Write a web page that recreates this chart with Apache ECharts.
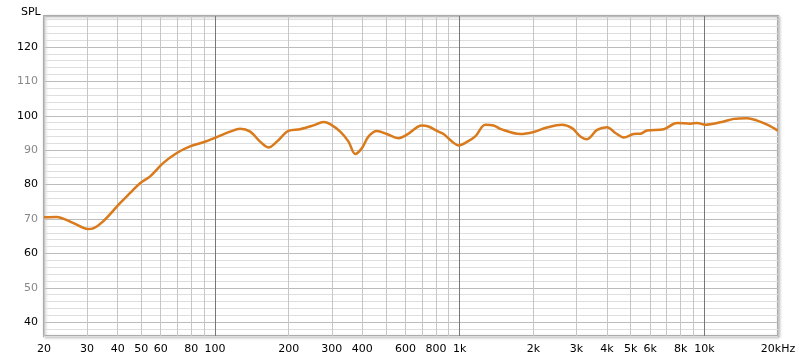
<!DOCTYPE html>
<html>
<head>
<meta charset="utf-8">
<script src="https://cdn.jsdelivr.net/npm/echarts@6/dist/echarts.min.js"></script>
<style>html,body{margin:0;padding:0;background:#fff}#c{width:800px;height:361px}</style>
</head>
<body>
<div id="c"></div>
<script>
var freqHz = [20, 22.5, 26.4, 30.2, 31.8, 34.9, 40.9, 44.9, 49.4, 54.3, 61.5, 69.8, 79.1, 89.7, 101.7, 115.3, 126.7, 139.2, 152.9, 165.4, 179, 199.6, 222.9, 252.6, 277.6, 295.6, 324.9, 351.3, 374.2, 398.6, 424.3, 458.9, 504.3, 562.4, 608.6, 700.8, 745.7, 807.4, 859.3, 930.2, 989.6, 1071, 1158, 1273, 1376, 1466, 1769, 2006, 2275, 2621, 2879, 3113, 3317, 3644, 4003, 4330, 4682, 5145, 5478, 5836, 6824, 7739, 8773, 9346, 10105, 11637, 13191, 14963, 16438, 18062, 19960];
var splDb = [70.5, 70.6, 68.8, 67.1, 67.3, 69.3, 74.6, 77.5, 80.4, 82.4, 86.3, 89.2, 91.1, 92.3, 93.8, 95.4, 96.2, 95.4, 92.5, 90.8, 92.5, 95.6, 96.1, 97.2, 98.2, 97.6, 95.4, 92.5, 88.9, 90.6, 94.0, 95.6, 94.7, 93.5, 94.5, 97.2, 96.9, 95.6, 94.7, 92.5, 91.4, 92.4, 94.0, 97.4, 97.2, 96.2, 94.7, 95.3, 96.6, 97.4, 96.4, 94.0, 93.2, 95.9, 96.7, 95.0, 93.7, 94.7, 94.8, 95.7, 96.1, 97.9, 97.7, 97.9, 97.4, 98.1, 99.1, 99.3, 98.6, 97.4, 95.7];
var gridFreqs = [20,30,40,50,60,70,80,90,100,200,300,400,500,600,700,800,900,1000,2000,3000,4000,5000,6000,7000,8000,9000,10000,20000];
var labelFreqs = [20,30,40,50,60,80,100,200,300,400,600,800,1000,2000,3000,4000,5000,6000,8000,10000,20000];
var yMin = 36, yMax = 129, yStep = 2;

var lg = function (f) { return Math.log10(f); };
var seriesData = freqHz.map(function (f, i) { return [lg(f), splDb[i]]; });

var chart = echarts.init(document.getElementById('c'), null, {renderer: 'canvas'});
var font = 'DejaVu Sans';
chart.setOption({
  animation: false,
  title: {text: 'SPL', left: 16, top: 2, textStyle: {fontFamily: font, fontSize: 11, fontWeight: 'normal', color: '#000'}},
  grid: {left: 44, top: 16, width: 734, height: 320, show: true, backgroundColor: '#fff', borderColor: '#acacac', borderWidth: 2, shadowBlur: 3, shadowColor: 'rgba(0,0,0,0.22)', shadowOffsetX: 1, shadowOffsetY: 1, containLabel: false},
  xAxis: {
    type: 'value', min: lg(20), max: lg(20000),
    axisLine: {show: false},
    axisTick: {show: false, customValues: gridFreqs.map(lg)},
    splitLine: {show: true, lineStyle: {width: 1, color: ['#c6c6c6','#c6c6c6','#c6c6c6','#c6c6c6','#c6c6c6','#c6c6c6','#c6c6c6','#c6c6c6','#787878']}},
    axisLabel: {
      customValues: labelFreqs.map(lg), margin: 8, fontFamily: font, fontSize: 11, color: '#000', hideOverlap: false,
      formatter: function (v) {
        var f = Math.round(Math.pow(10, v));
        if (f >= 20000) return '20kHz';
        if (f >= 1000) return (f / 1000) + 'k';
        return String(f);
      }
    }
  },
  yAxis: {
    type: 'value', min: yMin, max: yMax, interval: yStep,
    axisLine: {show: false}, axisTick: {show: false},
    splitLine: {show: true, lineStyle: {width: 1, color: ['#dedede','#dedede','#bcbcbc','#dedede','#dedede']}},
    axisLabel: {
      margin: 6, fontFamily: font, fontSize: 11,
      formatter: function (v) { return (v % 10 === 0) ? String(v) : ''; },
      color: function (v) { return ((v / 10) % 2 === 1) ? '#888' : '#000'; }
    }
  },
  series: [{
    type: 'line', data: seriesData, smooth: 0.35, showSymbol: false, symbol: 'none', clip: true,
    lineStyle: {color: '#d97a1c', width: 2.5}
  }]
});
</script>
</body>
</html>
